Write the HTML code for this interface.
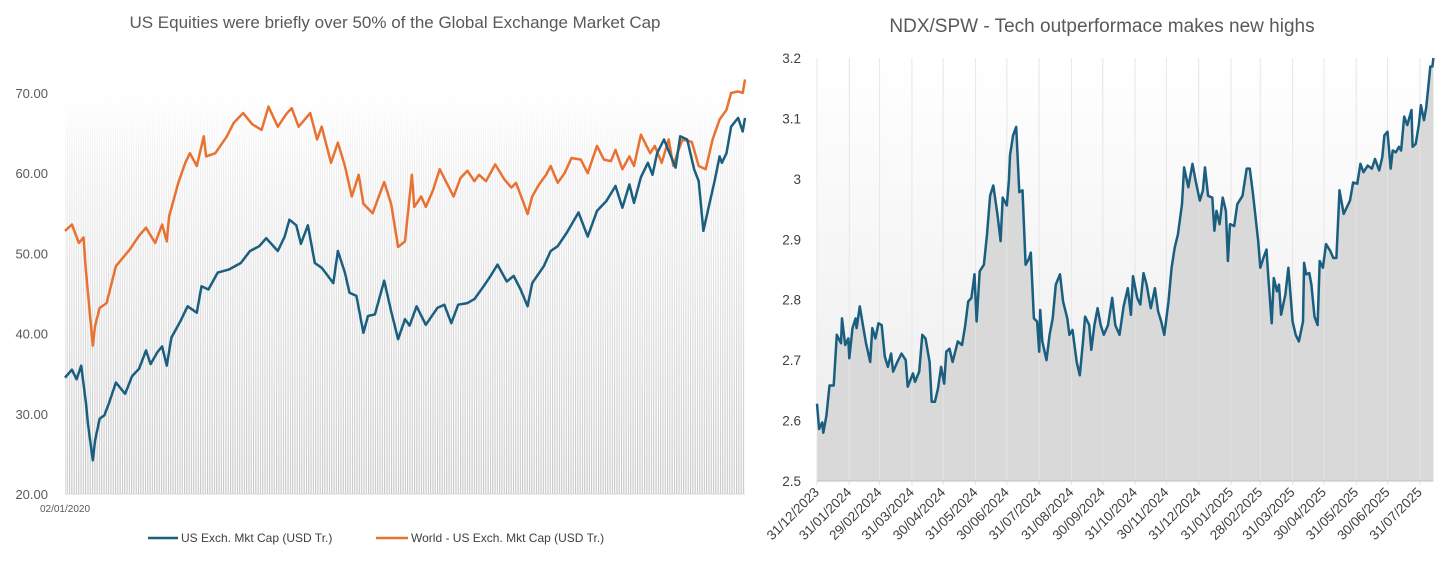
<!DOCTYPE html>
<html><head><meta charset="utf-8">
<style>
html,body{margin:0;padding:0;background:#fff;}
body{width:1456px;height:561px;overflow:hidden;font-family:"Liberation Sans",sans-serif;}
svg text{font-family:"Liberation Sans",sans-serif;}
</style></head>
<body>
<svg id="root" width="1456" height="561" viewBox="0 0 1456 561" xmlns="http://www.w3.org/2000/svg">
<defs>
<pattern id="stripes" width="2.3" height="10" patternUnits="userSpaceOnUse">
<rect x="0" y="0" width="1.1" height="10" fill="#c4c4c4"/>
</pattern>
<linearGradient id="fadeL" x1="0" y1="0" x2="0" y2="1">
<stop offset="0" stop-color="#fff" stop-opacity="1"/>
<stop offset="0.2" stop-color="#fff" stop-opacity="0.7"/>
<stop offset="1" stop-color="#fff" stop-opacity="0"/>
</linearGradient>
<linearGradient id="bgR" x1="0" y1="0" x2="0" y2="1">
<stop offset="0" stop-color="#ffffff"/>
<stop offset="1" stop-color="#ececec"/>
</linearGradient>
</defs>
<g id="left"></g>
<g id="right"></g>
</svg>
<script>
// ---------- LEFT CHART DATA ----------
const leftTicks = [20, 30, 40, 50, 60, 70];
const leftStartLabel = "02/01/2020";
const usWeek = [0,3,5,7,9,10,12,13,15,17,19,22,26,29,32,35,37,40,42,44,46,50,53,57,59,62,66,71,76,80,84,87,92,95,97,100,102,105,108,111,116,118,121,123,126,129,131,134,138,141,144,147,149,152,156,161,164,167,170,174,177,181,184,187,191,194,197,200,202,207,210,213,217,222,226,230,234,238,241,244,246,249,252,254,256,259,262,264,266,269,272,274,276,278,281,283,284,286,288,291,293,294];
const usVal = [34.5,35.5,34.3,36,31.5,28.6,24.2,26.7,29.4,29.8,31.3,33.9,32.5,34.7,35.6,37.9,36.2,37.7,38.4,36,39.5,41.6,43.4,42.6,45.9,45.5,47.6,48,48.8,50.3,50.9,51.9,50.3,52.1,54.2,53.5,51.2,53.5,48.8,48.2,46.3,50.3,47.6,45.1,44.7,40.1,42.2,42.4,46.6,42.8,39.3,41.8,41,43.4,41.1,43.2,43.6,41.3,43.6,43.8,44.3,45.9,47.2,48.6,46.5,47.2,45.5,43.4,46.3,48.4,50.3,50.9,52.6,55.1,52.1,55.3,56.5,58.4,55.7,58.6,56.3,59.5,61.3,59.8,62.5,64.2,62.1,60.7,64.6,64.2,60.5,59,52.8,55.4,59.2,62.1,61.3,62.5,65.8,66.9,65.2,66.9];
const worldWeek = [0,3,6,8,9,12,13,15,18,22,28,32,35,39,42,44,45,49,52,54,57,60,61,65,70,73,77,81,85,88,92,96,98,101,106,109,111,115,118,121,124,127,129,133,138,141,144,147,150,151,154,156,159,162,165,168,171,174,177,179,182,186,190,193,195,198,200,202,205,208,210,213,216,219,223,226,230,233,236,238,241,244,246,249,253,255,258,261,263,265,267,271,274,277,280,283,286,288,291,293,294];
const worldVal = [52.8,53.6,51.3,52,48,38.5,41,43.2,43.8,48.4,50.5,52.2,53.2,51.3,53.6,51.5,54.6,58.8,61.3,62.5,60.9,64.6,62.1,62.5,64.6,66.3,67.5,66.1,65.4,68.3,65.8,67.5,68.1,65.8,67.5,64.2,65.8,61.3,63.8,60.9,57.1,59.8,56.2,55,58.9,56.2,50.8,51.5,59.8,55.8,57.1,55.8,57.8,60.5,58.8,57.1,59.4,60.3,59,59.8,59,61.1,59.2,58.2,58.8,56.5,54.9,57.1,58.6,59.8,60.9,58.8,60,61.9,61.7,60,63.4,61.7,61.5,62.9,60.5,62.1,60.9,64.8,62.5,63.4,61.3,64.2,60.9,62.7,64.2,63.9,60.9,60.5,64.2,66.7,67.9,70,70.2,70,71.7];
const totalWeeks = 294;

// ---------- RIGHT CHART DATA ----------
const rightTicks = [2.5, 2.6, 2.7, 2.8, 2.9, 3.0, 3.1, 3.2];
const rightTickText = ["2.5","2.6","2.7","2.8","2.9","3","3.1","3.2"];
const monthLabels = ["31/12/2023","31/01/2024","29/02/2024","31/03/2024","30/04/2024","31/05/2024","30/06/2024","31/07/2024","31/08/2024","30/09/2024","31/10/2024","30/11/2024","31/12/2024","31/01/2025","28/02/2025","31/03/2025","30/04/2025","31/05/2025","30/06/2025","31/07/2025"];
const monthDays = [0,31,60,91,121,152,182,213,244,274,305,335,366,397,425,456,486,517,547,578];
const ratioDay = [0,2,5,6,9,12,16,19,23,24,27,30,31,34,37,38,41,44,47,51,53,56,59,62,65,68,71,73,77,81,85,87,92,94,98,101,104,108,110,113,116,119,122,124,127,130,135,139,142,145,148,151,153,156,160,163,166,169,173,176,178,182,184,185,188,191,194,197,200,203,205,208,211,213,214,216,220,223,226,229,233,236,240,242,245,249,252,255,257,261,263,266,269,272,275,279,283,286,290,294,298,301,303,307,310,313,316,320,324,327,330,333,337,340,343,346,350,352,356,360,363,367,370,372,375,379,381,383,386,389,392,394,396,400,403,408,412,415,418,423,425,428,431,433,436,438,441,443,445,449,452,454,456,459,462,466,467,469,472,474,477,480,482,485,488,492,495,498,501,505,508,511,514,518,521,524,528,532,535,539,542,544,547,550,552,555,558,560,563,566,570,571,574,577,579,582,584,586,588,590,591];
const ratioVal = [2.628,2.586,2.597,2.58,2.608,2.658,2.658,2.742,2.728,2.769,2.725,2.736,2.703,2.753,2.769,2.753,2.789,2.758,2.728,2.697,2.753,2.736,2.761,2.758,2.706,2.689,2.711,2.681,2.697,2.711,2.7,2.656,2.678,2.664,2.681,2.742,2.736,2.697,2.631,2.631,2.653,2.689,2.661,2.714,2.719,2.697,2.731,2.725,2.756,2.797,2.803,2.842,2.764,2.847,2.858,2.908,2.972,2.989,2.942,2.897,2.969,2.956,2.997,3.039,3.072,3.086,2.978,2.981,2.858,2.867,2.878,2.769,2.764,2.714,2.783,2.731,2.7,2.742,2.769,2.825,2.842,2.797,2.769,2.742,2.75,2.697,2.675,2.731,2.772,2.758,2.717,2.758,2.786,2.758,2.742,2.758,2.803,2.758,2.742,2.789,2.819,2.775,2.839,2.803,2.792,2.844,2.825,2.786,2.819,2.781,2.764,2.742,2.797,2.853,2.886,2.908,2.958,3.019,2.986,3.025,2.997,2.964,2.981,3.019,2.972,2.969,2.914,2.947,2.925,2.969,2.947,2.864,2.925,2.922,2.958,2.972,3.017,3.017,2.975,2.897,2.853,2.869,2.883,2.831,2.761,2.836,2.814,2.825,2.775,2.808,2.853,2.808,2.764,2.742,2.731,2.764,2.861,2.842,2.844,2.825,2.772,2.758,2.864,2.853,2.892,2.881,2.869,2.869,2.981,2.942,2.953,2.964,2.994,2.992,3.025,3.011,3.022,3.017,3.033,3.014,3.036,3.072,3.078,3.017,3.047,3.044,3.053,3.047,3.103,3.089,3.114,3.053,3.058,3.089,3.122,3.097,3.117,3.15,3.186,3.186,3.2];

const NS = "http://www.w3.org/2000/svg";
function mk(parent, tag, attrs, text){
  const e = document.createElementNS(NS, tag);
  for (const k in attrs) e.setAttribute(k, attrs[k]);
  if (text !== undefined) e.textContent = text;
  parent.appendChild(e);
  return e;
}

// ---------- LEFT ----------
(function(){
  const g = document.getElementById('left');
  const X0 = 65, X1 = 745, Y0 = 494, Y1 = 93;
  const xs = i => X0 + i / totalWeeks * (X1 - X0);
  const ys = v => Y0 - (v - 20) / 50 * (Y0 - Y1);

  const title = mk(g, 'text', {x: 395, y: 28, 'text-anchor': 'middle', 'font-size': 17, fill: '#595959'}, 'US Equities were briefly over 50% of the Global Exchange Market Cap');
  
  

  const bg = mk(g, 'rect', {x: X0, y: Y1, width: X1 - X0, height: Y0 - Y1, fill: 'url(#stripes)'});
  
  
  mk(g, 'rect', {x: X0, y: Y1 - 2, width: X1 - X0, height: Y0 - Y1 + 2, fill: 'url(#fadeL)'});

  const ax = mk(g, 'line', {x1: X0, y1: Y0, x2: X1, y2: Y0, stroke: '#d9d9d9', 'stroke-width': 1});
  
  

  leftTicks.forEach(t => {
    const tl = mk(g, 'text', {x: 48, y: ys(t) + 5, 'text-anchor': 'end', 'font-size': 13, fill: '#595959'}, t.toFixed(2));
    
    
  });
  const xl = mk(g, 'text', {x: X0, y: 512, 'text-anchor': 'middle', 'font-size': 10, fill: '#595959'}, leftStartLabel);
  
  

  const path = (wk, vals) => wk.map((w, i) => (i ? 'L' : 'M') + xs(w).toFixed(1) + ',' + ys(vals[i]).toFixed(1)).join('');
  const lw = mk(g, 'path', {d: path(worldWeek, worldVal), fill: 'none', stroke: '#e97132', 'stroke-width': 2.5, 'stroke-linejoin': 'round'});
  
  
  const lu = mk(g, 'path', {d: path(usWeek, usVal), fill: 'none', stroke: '#1a5e80', 'stroke-width': 2.5, 'stroke-linejoin': 'round'});
  
  

  const l1 = mk(g, 'g', {});
  
  
  mk(l1, 'line', {x1: 148, y1: 538, x2: 178, y2: 538, stroke: '#1a5e80', 'stroke-width': 2.5});
  mk(l1, 'text', {x: 181, y: 542, 'font-size': 12, fill: '#404040'}, 'US Exch. Mkt Cap (USD Tr.)');
  const l2 = mk(g, 'g', {});
  
  
  mk(l2, 'line', {x1: 376, y1: 538, x2: 408, y2: 538, stroke: '#e97132', 'stroke-width': 2.5});
  mk(l2, 'text', {x: 411, y: 542, 'font-size': 12, fill: '#404040'}, 'World - US Exch. Mkt Cap (USD Tr.)');
})();

// ---------- RIGHT ----------
(function(){
  const g = document.getElementById('right');
  const X0 = 817, PXD = 1.043, Y0 = 481, Y1 = 58;
  const xs = d => X0 + d * PXD;
  const ys = v => Y0 - (v - 2.5) / 0.7 * (Y0 - Y1);
  const lastDay = ratioDay[ratioDay.length - 1];

  const title = mk(g, 'text', {x: 1102, y: 32, 'text-anchor': 'middle', 'font-size': 19, fill: '#595959'}, 'NDX/SPW - Tech outperformace makes new highs');
  
  

  const bg = mk(g, 'rect', {x: X0, y: Y1, width: xs(lastDay) - X0, height: Y0 - Y1, fill: 'url(#bgR)'});
  
  

  monthDays.forEach(d => {
    const gl = mk(g, 'line', {x1: xs(d), y1: Y1, x2: xs(d), y2: Y0 + 4, stroke: '#e3e3e3', 'stroke-width': 1});
    
    
  });

  let d = 'M' + xs(ratioDay[0]).toFixed(1) + ',' + Y0;
  ratioDay.forEach((dy, i) => { d += 'L' + xs(dy).toFixed(1) + ',' + ys(ratioVal[i]).toFixed(1); });
  d += 'L' + xs(lastDay).toFixed(1) + ',' + Y0 + 'Z';
  const area = mk(g, 'path', {d: d, fill: '#d9d9d9'});
  
  

  monthDays.forEach(dd => {
    mk(g, 'line', {x1: xs(dd), y1: Y1, x2: xs(dd), y2: Y0, stroke: '#ececec', 'stroke-width': 0.8, 'stroke-opacity': 0.6});
  });

  const line = mk(g, 'path', {d: ratioDay.map((dy, i) => (i ? 'L' : 'M') + xs(dy).toFixed(1) + ',' + ys(ratioVal[i]).toFixed(1)).join(''), fill: 'none', stroke: '#1a5e80', 'stroke-width': 2.5, 'stroke-linejoin': 'round'});
  
  

  const ax = mk(g, 'line', {x1: X0, y1: Y0, x2: xs(lastDay), y2: Y0, stroke: '#bfbfbf', 'stroke-width': 1});
  
  

  rightTicks.forEach((t, i) => {
    const tl = mk(g, 'text', {x: 801, y: ys(t) + 5, 'text-anchor': 'end', 'font-size': 13.5, fill: '#404040'}, rightTickText[i]);
    
    
  });
  monthLabels.forEach((lab, i) => {
    const x = xs(monthDays[i]);
    const tl = mk(g, 'text', {x: x + 3, y: Y0 + 12, 'text-anchor': 'end', 'font-size': 13.5, fill: '#404040', transform: 'rotate(-45 ' + (x + 3) + ' ' + (Y0 + 12) + ')'}, lab);
    
    
  });
})();
</script>
</body></html>
